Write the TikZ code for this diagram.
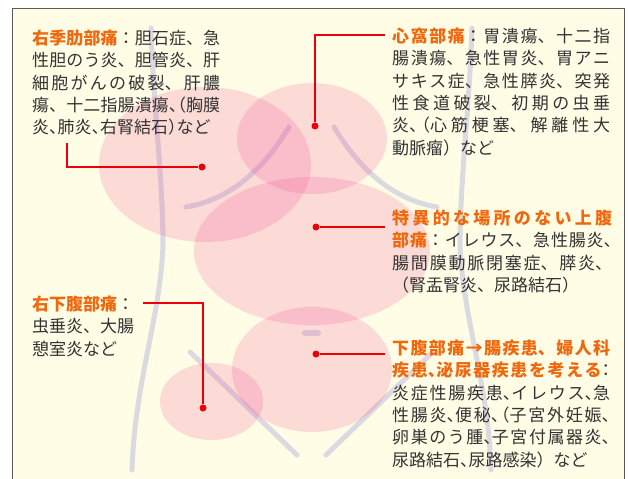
\documentclass[tikz,border=0pt]{standalone}
\usepackage{fontspec}
\usepackage{xcolor}
\usepackage{tikz}
\usetikzlibrary{positioning}

\newfontfamily\jp{Noto Sans CJK JP}
\newfontfamily\jph[RawFeature=+halt]{Noto Sans CJK JP}
\XeTeXlinebreaklocale "ja"
\XeTeXlinebreakskip=0pt plus 3pt
\setlength{\parindent}{0pt}
\tolerance=10000

\definecolor{cream}{RGB}{255,253,230}
\definecolor{framegray}{RGB}{90,90,90}
\definecolor{hdorange}{RGB}{240,104,14}
\definecolor{txtgray}{RGB}{51,51,51}
\definecolor{leadred}{RGB}{235,0,10}
\definecolor{zonepink}{RGB}{240,78,150}
\definecolor{bodygray}{RGB}{218,218,224}

\newcommand{\hd}[1]{{\bfseries\color{hdorange}#1}}
% half-width punctuation
\newcommand{\hw}[1]{{\jph #1}}

\begin{document}
\begin{tikzpicture}[
  x=1pt, y=-1pt,
  note/.style={anchor=north west, inner sep=0pt, align=justify, text=txtgray,
               font=\jp\fontsize{17}{22.4}\selectfont},
  zone/.style={fill=zonepink, fill opacity=0.2},
  body/.style={draw=bodygray, line width=5pt, line cap=round},
  leader/.style={draw=leadred, line width=1.5pt},
  dot/.style={circle, fill=leadred, inner sep=0pt, minimum size=7pt}
]
  \useasboundingbox (0,0) rectangle (629,479);
  \fill[white] (0,0) rectangle (629,479);
  \fill[cream] (12.5,8.5) rectangle (624,479);
  \draw[framegray, line width=1pt] (12.5,479) -- (12.5,8.5) -- (624,8.5) -- (624,479);

  % trunk outline
  \draw[body] (151,28) .. controls (153,100) and (163,180) .. (163,245)
              .. controls (160,320) and (135,380) .. (132,470);
  \draw[body] (472,28) .. controls (470,100) and (460,180) .. (460,245)
              .. controls (463,320) and (488,380) .. (491,470);
  \draw[body] (289,127) .. controls (262,172) and (228,200) .. (186,207);
  \draw[body] (334,127) .. controls (361,172) and (395,200) .. (437,207);
  \draw[body] (190,352) -- (297,455);
  \draw[body] (433,352) -- (326,455);
  \draw[body, line width=6pt] (305,333) -- (318,333);

  % pain zones
  \fill[zone] (205,164.5) ellipse [x radius=106, y radius=77.5];
  \fill[zone] (312,138.5) ellipse [x radius=75, y radius=55.5];
  \fill[zone] (312,251) ellipse [x radius=118, y radius=74];
  \fill[zone] (312,369.5) ellipse [x radius=80, y radius=62.5];
  \fill[zone] (211.5,401.5) ellipse [x radius=51.5, y radius=38.5];

  % descriptions
  \node[note, text width=188pt] (rhyp) at (32,29.5)
    {\hd{右季肋部痛}：胆石症、急\linebreak
     性胆のう炎、胆管炎、肝\linebreak
     細胞がんの破裂、肝膿\linebreak
     瘍、十二指腸潰瘍\hw{、（}胸膜\linebreak
     炎\hw{、}肺炎\hw{、}右腎結石\hw{）}など};
  \node[note, text width=218pt] (epi) at (392,27.5)
    {\hd{心窩部痛}：胃潰瘍、十二指\linebreak
     腸潰瘍、急性胃炎、胃アニ\linebreak
     サキス症、急性膵炎、突発\linebreak
     性食道破裂、初期の虫垂\linebreak
     炎\hw{、（}心筋梗塞、解離性大\linebreak
     動脈瘤）など};
  \node[note, text width=220pt] (upper) at (392,209.5)
    {\hd{特異的な場所のない上腹\linebreak
     部痛}：イレウス、急性腸炎\hw{、}\linebreak
     腸間膜動脈閉塞症、膵炎、\linebreak
     （腎盂腎炎、尿路結石）};
  \node[note, text width=218pt] (lower) at (392,339.5)
    {\hd{下腹部痛→腸疾患、婦人科\linebreak
     疾患\hw{、}泌尿器疾患を考える}\hw{：}\linebreak
     炎症性腸疾患\hw{、}イレウス\hw{、}急\linebreak
     性腸炎\hw{、}便秘\hw{、（}子宮外妊娠\hw{、}\linebreak
     卵巣のう腫\hw{、}子宮付属器炎\hw{、}\linebreak
     尿路結石\hw{、}尿路感染）など};
  \node[note, text width=105pt] (rlow) at (32,295.5)
    {\hd{右下腹部痛}：\\
     虫垂炎、大腸\\
     憩室炎など};

  % leader lines
  \node[dot] (d1) at (202,167) {};
  \node[dot] (d2) at (315,126) {};
  \node[dot] (d3) at (316,227) {};
  \node[dot] (d4) at (316,354) {};
  \node[dot] (d5) at (203,408) {};
  \coordinate (c1) at (67,143);
  \coordinate (c2) at (385,35);
  \coordinate (c3) at (385,227);
  \coordinate (c4) at (385,354);
  \coordinate (c5) at (143,303);
  \draw[leader] (c1) |- (d1);
  \draw[leader] (c2) -| (d2);
  \draw[leader] (d3) -- (c3);
  \draw[leader] (d4) -- (c4);
  \draw[leader] (c5) -| (d5);
\end{tikzpicture}
\end{document}
